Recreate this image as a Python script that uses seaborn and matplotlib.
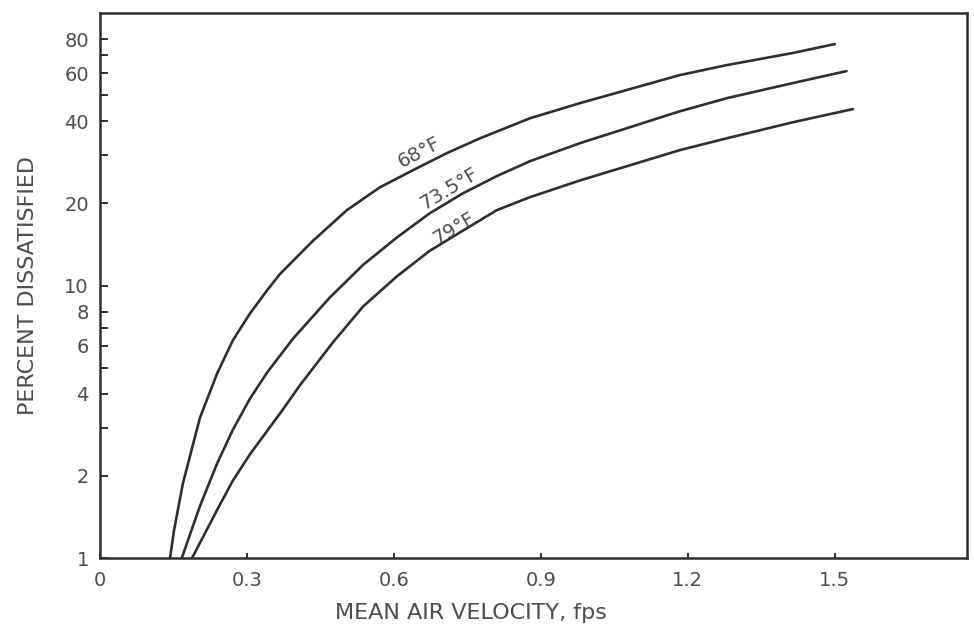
import numpy as np
import pandas as pd
import matplotlib
matplotlib.use("Agg")
import matplotlib.pyplot as plt
from matplotlib.ticker import FixedLocator, NullFormatter
import seaborn as sns

# curve readings: mean air velocity (fps) vs percent dissatisfied
vel_68 = [0.143, 0.151, 0.169, 0.204, 0.239, 0.271, 0.306, 0.341, 0.367, 0.435,
          0.504, 0.571, 0.639, 0.708, 0.776, 0.878, 0.980, 1.184, 1.280, 1.414, 1.500]
pct_68 = [1.0, 1.26, 1.87, 3.27, 4.75, 6.28, 7.89, 9.59, 11.0, 14.6,
          18.9, 22.9, 26.5, 30.6, 34.7, 41.1, 46.7, 59.2, 64.4, 71.3, 76.9]

vel_735 = [0.167, 0.204, 0.239, 0.271, 0.306, 0.341, 0.394, 0.469, 0.537, 0.606,
           0.673, 0.741, 0.810, 0.878, 0.980, 1.184, 1.280, 1.414, 1.524]
pct_735 = [1.0, 1.55, 2.22, 2.95, 3.84, 4.79, 6.38, 9.03, 11.9, 15.0,
           18.4, 21.8, 25.2, 28.6, 33.3, 43.6, 48.7, 55.3, 61.2]

vel_79 = [0.188, 0.239, 0.271, 0.306, 0.373, 0.408, 0.476, 0.537, 0.606, 0.673,
          0.741, 0.810, 0.878, 0.980, 1.184, 1.280, 1.414, 1.537]
pct_79 = [1.0, 1.50, 1.92, 2.40, 3.50, 4.30, 6.20, 8.37, 10.8, 13.4,
          15.9, 18.9, 21.1, 24.3, 31.4, 34.7, 39.7, 44.4]

curve_names = ["68°F", "73.5°F", "79°F"]
label_vel = [0.651, 0.712, 0.724]
label_pct = [30.8, 22.7, 16.2]
label_rot = [28, 31, 31]

x_ticks = [0, 0.3, 0.6, 0.9, 1.2, 1.5]
x_tick_labels = ["0", "0.3", "0.6", "0.9", "1.2", "1.5"]
y_major = [1, 2, 4, 6, 8, 10, 20, 40, 60, 80]
y_minor = [3, 5, 7, 30, 50, 70]

INK = "#2e2e2e"
TXT = "#4d4d4d"
FS = 14
FS_AXIS = 16

sns.set_theme(style="white")
plt.rcParams["font.family"] = ["DejaVu Sans"]

df = pd.concat([
    pd.DataFrame({"vel": vel_68, "pct": pct_68, "curve": curve_names[0]}),
    pd.DataFrame({"vel": vel_735, "pct": pct_735, "curve": curve_names[1]}),
    pd.DataFrame({"vel": vel_79, "pct": pct_79, "curve": curve_names[2]}),
])

fig = plt.figure(figsize=(9.74, 6.3), dpi=100)
ax = fig.add_axes([100 / 974, 1 - 558 / 630, 867 / 974, 545 / 630])

sns.lineplot(data=df, x="vel", y="pct", units="curve", estimator=None,
             color=INK, linewidth=1.9, ax=ax, legend=False)

ax.set_yscale("log")
ax.set_xlim(0, 1.77)
ax.set_ylim(1, 100)

ax.xaxis.set_major_locator(FixedLocator(x_ticks))
ax.set_xticklabels(x_tick_labels)
ax.yaxis.set_major_locator(FixedLocator(y_major))
ax.yaxis.set_minor_locator(FixedLocator(y_minor))
ax.set_yticklabels([str(v) for v in y_major])
ax.yaxis.set_minor_formatter(NullFormatter())

ax.tick_params(axis="both", which="both", direction="in", width=1.4,
               color=INK, labelcolor=TXT, labelsize=FS)
ax.tick_params(axis="y", which="both", left=True, length=6, pad=8)
ax.tick_params(axis="x", which="both", bottom=True, length=3.5, pad=9)

for sp in ax.spines.values():
    sp.set_color(INK)
    sp.set_linewidth(1.8)

ax.set_xlabel("MEAN AIR VELOCITY, fps", fontsize=FS_AXIS, color=TXT)
ax.set_ylabel("PERCENT DISSATISFIED", fontsize=FS_AXIS, color=TXT)
ax.xaxis.set_label_coords(0.428, -0.082)
ax.yaxis.set_label_coords(-0.072, 0.5)

for name, lx, ly, rot in zip(curve_names, label_vel, label_pct, label_rot):
    ax.text(lx, ly, name, rotation=rot, ha="center", va="center",
            fontsize=FS, color=TXT, rotation_mode="anchor")

fig.savefig("out.png", dpi=100, facecolor="white")
